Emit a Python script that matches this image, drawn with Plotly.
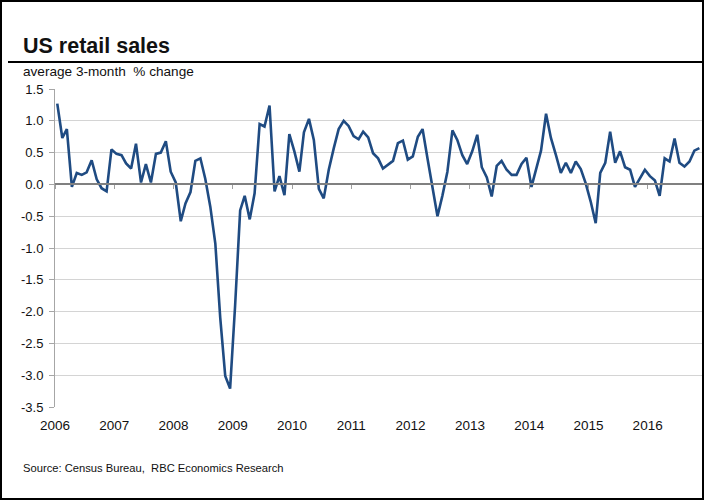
import pandas as pd
import plotly.graph_objects as go

# average 3-month % change, monthly, Jan 2006 - Nov 2016
vals_2006 = [1.27, 0.73, 0.87, -0.04, 0.18, 0.15, 0.19, 0.38, 0.08, -0.06, -0.11, 0.55]
vals_2007 = [0.48, 0.46, 0.33, 0.25, 0.64, 0.03, 0.32, 0.03, 0.48, 0.50, 0.68, 0.20]
vals_2008 = [0.03, -0.58, -0.30, -0.12, 0.37, 0.41, 0.09, -0.35, -0.93, -2.09, -3.01, -3.21]
vals_2009 = [-1.90, -0.41, -0.18, -0.55, -0.14, 0.95, 0.91, 1.24, -0.11, 0.13, -0.17, 0.79]
vals_2010 = [0.52, 0.20, 0.82, 1.03, 0.70, -0.07, -0.22, 0.23, 0.57, 0.87, 1.00, 0.92]
vals_2011 = [0.76, 0.71, 0.83, 0.74, 0.49, 0.41, 0.25, 0.31, 0.37, 0.65, 0.69, 0.39]
vals_2012 = [0.44, 0.75, 0.87, 0.40, -0.05, -0.50, -0.18, 0.20, 0.85, 0.70, 0.46, 0.32]
vals_2013 = [0.52, 0.78, 0.27, 0.11, -0.19, 0.29, 0.37, 0.23, 0.15, 0.15, 0.32, 0.42]
vals_2014 = [-0.04, 0.24, 0.53, 1.11, 0.73, 0.46, 0.18, 0.34, 0.18, 0.36, 0.24, 0.02]
vals_2015 = [-0.27, -0.61, 0.18, 0.34, 0.83, 0.34, 0.52, 0.27, 0.23, -0.04, 0.11, 0.23]
vals_2016 = [0.13, 0.06, -0.18, 0.41, 0.36, 0.72, 0.34, 0.28, 0.36, 0.53, 0.57]

sales = (vals_2006 + vals_2007 + vals_2008 + vals_2009 + vals_2010 + vals_2011 +
         vals_2012 + vals_2013 + vals_2014 + vals_2015 + vals_2016)

years = list(range(2006, 2017))
year_labels = [str(y) for y in years]
y_ticks = [1.5, 1.0, 0.5, 0.0, -0.5, -1.0, -1.5, -2.0, -2.5, -3.0, -3.5]
y_labels = ["%.1f" % v for v in y_ticks]

title_text = "US retail sales"
subtitle_text = "average 3-month  % change"
source_text = "Source: Census Bureau,  RBC Economics Research"

dates = pd.date_range("2006-01-01", periods=len(sales), freq="MS") + pd.Timedelta(days=14)
year_dates = [pd.Timestamp(f"{y}-01-01") for y in years]

W, H = 704, 500
ML, MR, MT, MB = 55, 2, 89, 93
PW, PH = W - ML - MR, H - MT - MB


def px(x):
    return (x - ML) / PW


def py(y):
    return (H - MB - y) / PH


FONT = "Liberation Sans"
LINE = "#1f4b82"
x_range = ["2006-01-01", "2016-12-01"]

fig = go.Figure()
fig.add_trace(go.Scatter(x=dates, y=sales, mode="lines",
                         line=dict(color=LINE, width=2.6), xaxis="x", yaxis="y",
                         hoverinfo="x+y", showlegend=False))
# helper trace so the zero-crossing axis (with year ticks) is drawn
fig.add_trace(go.Scatter(x=dates, y=sales, mode="lines", line=dict(width=0),
                         opacity=0, xaxis="x2", yaxis="y", hoverinfo="skip",
                         showlegend=False))

fig.update_layout(
    width=W, height=H,
    margin=dict(l=ML, r=MR, t=MT, b=MB),
    paper_bgcolor="white", plot_bgcolor="white",
    font=dict(family=FONT, color="#111111"),
    xaxis=dict(type="date", range=x_range, tickvals=year_dates, ticktext=year_labels,
               showgrid=False, showline=False, zeroline=False, ticks="",
               tickfont=dict(size=13.5, color="#111111"), ticklabelstandoff=8),
    xaxis2=dict(type="date", range=x_range, overlaying="x", anchor="free",
                position=(0 - (-3.5)) / 5.0, tickvals=year_dates, showticklabels=False,
                showgrid=False, zeroline=False, showline=True, linecolor="#808080",
                linewidth=1.5, ticks="outside", ticklen=4, tickcolor="#a0a0a0", tickwidth=1),
    yaxis=dict(range=[-3.5, 1.5], tickvals=y_ticks, ticktext=y_labels,
               showgrid=True, gridcolor="#d4d4d4", gridwidth=1, zeroline=False,
               showline=True, linecolor="#a6a6a6", linewidth=1,
               ticks="outside", ticklen=5, tickcolor="#a6a6a6",
               tickfont=dict(size=13, color="#111111"), ticklabelstandoff=3),
    shapes=[
        dict(type="line", xref="paper", yref="paper", x0=px(8), x1=px(702),
             y0=py(62), y1=py(62), line=dict(color="black", width=2)),
        dict(type="rect", xref="paper", yref="paper", x0=px(1), x1=px(703),
             y0=py(499), y1=py(1), line=dict(color="black", width=2),
             fillcolor="rgba(0,0,0,0)", layer="above"),
    ],
    annotations=[
        dict(text="<b>%s</b>" % title_text, xref="paper", yref="paper",
             x=px(21), y=py(46), xanchor="left", yanchor="middle", showarrow=False,
             font=dict(size=21.5, color="#111111", family=FONT)),
        dict(text=subtitle_text, xref="paper", yref="paper",
             x=px(21), y=py(71), xanchor="left", yanchor="middle", showarrow=False,
             font=dict(size=13.6, color="#111111", family=FONT)),
        dict(text=source_text, xref="paper", yref="paper",
             x=px(21), y=py(468), xanchor="left", yanchor="middle", showarrow=False,
             font=dict(size=11.2, color="#111111", family=FONT)),
    ],
)

fig.write_html("out.html")
